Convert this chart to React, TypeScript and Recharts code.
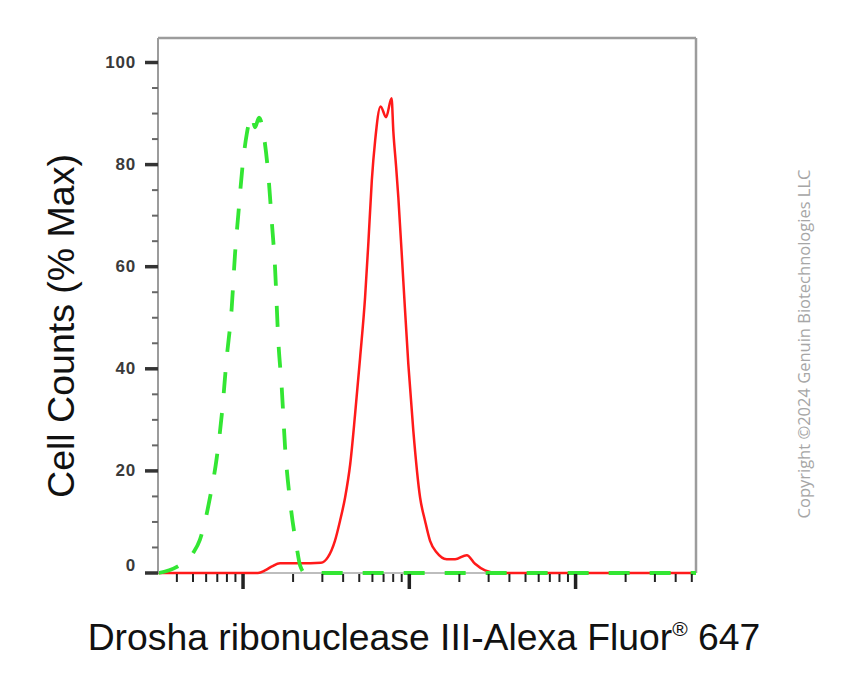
import { LineChart, Line, XAxis, YAxis, ReferenceLine } from "recharts";

// flow histogram (x = fluorescence, y = % of max)
const greenX = [31, 40, 50, 55, 63.3, 69.5, 74.5, 79.8, 85.5, 89.5, 93.7, 99.6, 105.3, 112.8, 118, 124.8, 134.3, 141.9, 148.8, 155.7, 163, 170.9, 179, 191.8, 210.4, 220.3, 236, 53000];
const greenY = [0, 1.2, 3.9, 6.5, 14.8, 22.6, 31, 42.2, 52, 62.5, 70.3, 80.1, 86, 89.6, 87.3, 89.2, 85, 78, 69, 59.9, 45.5, 36.3, 24.6, 14.1, 5, 1.5, 0, 0];

const redX = [31, 123, 135.6, 149.3, 167, 220, 294, 324, 357, 383, 411, 441, 472, 506, 542, 568, 595, 623, 672, 725, 782, 802, 832, 859, 920, 986, 1057, 1161, 1244, 1333, 1462, 1679, 1884, 2217, 2485, 2855, 3357, 53000];
const redY = [0, 0, 0.5, 1.3, 1.9, 1.9, 2.0, 3.1, 6.3, 10.2, 14.8, 21.3, 31.1, 42.2, 54, 65, 76.9, 84.7, 91.4, 89.3, 93, 86.4, 79.8, 73.6, 57.3, 41, 27.9, 14.8, 10.2, 6.3, 4, 2.7, 2.7, 3.5, 1.8, 0.5, 0, 0];

const yTicks = [0, 5, 10, 15, 20, 25, 30, 35, 40, 45, 50, 55, 60, 65, 70, 75, 80, 85, 90, 95, 100];
const xMajor = [100, 1000, 10000];
const xTicks = [40, 50, 60, 70, 80, 90, 100, 200, 300, 400, 500, 600, 700, 800, 900, 1000, 2000, 3000, 4000, 5000, 6000, 7000, 8000, 9000, 10000, 20000, 30000, 40000, 50000];

const X_MIN = 30.8;
const X_MAX = 53000;
const Y_MAX = 104.8;

const greenData = greenX.map((x, i) => ({ x, y: greenY[i] }));
const redData = redX.map((x, i) => ({ x, y: redY[i] }));

const AXIS = "#9c9c9c";

function YTick(props: any) {
  const { x, y, payload } = props;
  const v = payload.value;
  const major = v % 20 === 0;
  return (
    <g>
      <line x1={x - (major ? 13 : 6)} x2={x} y1={y} y2={y} stroke={major ? "#333" : "#666"} strokeWidth={major ? 3.5 : 2} />
      {major && (
        <text
          x={x - 22}
          y={v === 0 ? y - 8 : y}
          textAnchor="end"
          dominantBaseline="central"
          fontSize={17}
          fontWeight="bold"
          letterSpacing={0.8}
          fill="#3a3a3a"
          fontFamily="'Liberation Sans', Arial, sans-serif"
        >
          {v}
        </text>
      )}
    </g>
  );
}

function XTick(props: any) {
  const { x, y, payload } = props;
  const major = xMajor.includes(payload.value);
  return <line x1={x} x2={x} y1={y + 1} y2={y + (major ? 16 : 9)} stroke="#222" strokeWidth={major ? 3.5 : 2} />;
}

export default function App() {
  return (
    <div style={{ position: "absolute", left: 0, top: 0, width: 847, height: 690, background: "#fff" }}>
      <LineChart width={847} height={690} margin={{ top: 38, right: 151, bottom: 0, left: 0 }}>
        <XAxis
          dataKey="x"
          type="number"
          scale="log"
          domain={[X_MIN, X_MAX]}
          ticks={xTicks}
          interval={0}
          tick={<XTick />}
          tickLine={false}
          tickSize={0}
          tickMargin={0}
          height={117}
          axisLine={false}
        />
        <YAxis
          type="number"
          domain={[0, Y_MAX]}
          ticks={yTicks}
          interval={0}
          tick={<YTick />}
          tickLine={false}
          tickSize={0}
          tickMargin={0}
          width={158}
          axisLine={{ stroke: AXIS, strokeWidth: 2 }}
        />
        <ReferenceLine y={0} stroke="#bdbdbd" strokeWidth={2} ifOverflow="visible" />
        <ReferenceLine y={Y_MAX} stroke={AXIS} strokeWidth={2.5} ifOverflow="visible" />
        <ReferenceLine x={X_MAX} stroke={AXIS} strokeWidth={2.5} ifOverflow="visible" />
        <Line data={redData} dataKey="y" type="monotone" stroke="#ff1a1a" strokeWidth={2.5} dot={false} isAnimationActive={false} />
        <Line data={greenData} dataKey="y" type="monotone" stroke="#33e633" strokeWidth={3.8} strokeDasharray="21 20" dot={false} isAnimationActive={false} />
      </LineChart>
      <div
        style={{
          position: "absolute",
          left: 62,
          top: 326,
          transform: "translate(-50%, -50%) rotate(-90deg)",
          whiteSpace: "nowrap",
          lineHeight: 1,
          fontFamily: "'Liberation Sans', Arial, sans-serif",
          fontSize: 37.5,
          color: "#111",
        }}
      >
        Cell Counts (% Max)
      </div>
      <div
        style={{
          position: "absolute",
          left: 424,
          top: 637,
          transform: "translate(-50%, -50%)",
          whiteSpace: "nowrap",
          lineHeight: 1,
          fontFamily: "'Liberation Sans', Arial, sans-serif",
          fontSize: 37.3,
          color: "#111",
        }}
      >
        Drosha ribonuclease III-Alexa Fluor<span style={{ fontSize: 21, verticalAlign: "0.7em" }}>®</span> 647
      </div>
      <div
        style={{
          position: "absolute",
          left: 804,
          top: 344,
          transform: "translate(-50%, -50%) rotate(-90deg)",
          whiteSpace: "nowrap",
          lineHeight: 1,
          fontFamily: "'Open Sans', 'Noto Sans', sans-serif",
          fontSize: 16.5,
          color: "#a6a6a6",
        }}
      >
        Copyright ©2024 Genuin Biotechnologies LLC
      </div>
    </div>
  );
}
